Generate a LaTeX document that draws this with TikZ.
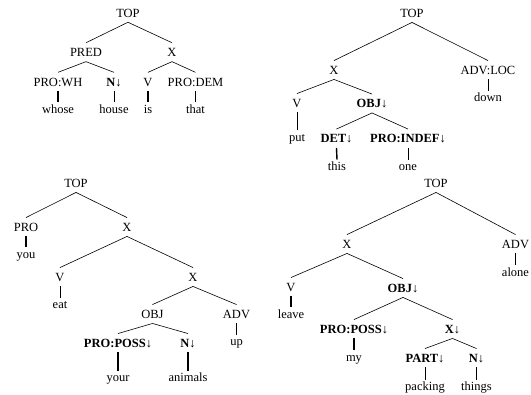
\documentclass[tikz,border=0pt]{standalone}
\usepackage{fontspec}
\setmainfont{Liberation Serif}
\newcommand{\darr}{{\mdseries ↓}}
\begin{document}
\begin{tikzpicture}[x=1pt,y=-1pt,
  lbl/.style={font=\fontsize{12.5}{14}\selectfont, inner xsep=1pt, inner ysep=5pt, text height=8.5pt, text depth=0pt},
  leaf/.style={lbl, inner ysep=2.5pt},
  edge/.style={line width=0.6pt},
  thinbar/.style={line width=0.7pt},
  thickbar/.style={line width=1.4pt}]
\useasboundingbox (0,0) rectangle (531,395);
\clip (0,0) rectangle (531,395);
% ---------- tree 1 (top left)
\node[lbl] (t1) at (128,12.8) {TOP};
\node[lbl] (pred) at (86,52.2) {PRED};
\node[lbl] (x1) at (172,52.2) {X};
\node[lbl] (prowh) at (58,81.8) {PRO:WH};
\node[lbl] (n1) at (114,81.8) {\textbf{N}\darr};
\node[lbl] (v1) at (148,81.8) {V};
\node[lbl] (prodem) at (195.5,81.8) {PRO:DEM};
\node[leaf] (whose) at (58,108.8) {whose};
\node[leaf] (house) at (114,108.8) {house};
\node[leaf] (is) at (148,108.8) {is};
\node[leaf] (that) at (195.5,108.8) {that};
\draw[edge] (t1.south) -- (pred.north);
\draw[edge] (t1.south) -- (x1.north);
\draw[edge] (pred.south) -- (prowh.north);
\draw[edge] (pred.south) -- (n1.north);
\draw[edge] (x1.south) -- (v1.north);
\draw[edge] (x1.south) -- (prodem.north);
\draw[thickbar] (prowh.south) -- (whose.north);
\draw[thinbar] (n1.south) -- (house.north);
\draw[thickbar] (v1.south) -- (is.north);
\draw[thinbar] (prodem.south) -- (that.north);
% ---------- tree 2 (top right)
\node[lbl] (t2) at (412,13) {TOP};
\node[lbl] (x2) at (334,70) {X};
\node[lbl] (advloc) at (488,70) {ADV:LOC};
\node[leaf] (down) at (488,97.5) {down};
\node[lbl] (v2) at (297,103) {V};
\node[lbl] (obj2) at (372,103.5) {\textbf{OBJ}\darr};
\node[leaf] (put) at (297,137) {put};
\node[lbl] (det) at (336.5,138.5) {\textbf{DET}\darr};
\node[lbl] (proindef) at (408,138.5) {\textbf{PRO:INDEF}\darr};
\node[leaf] (this) at (337,166.5) {this};
\node[leaf] (one) at (408,166.5) {one};
\draw[edge] (t2.south) -- (x2.north);
\draw[edge] (t2.south) -- (advloc.north);
\draw[edge] (x2.south) -- (v2.north);
\draw[edge] (x2.south) -- (obj2.north);
\draw[edge] (obj2.south) -- (det.north);
\draw[edge] (obj2.south) -- (proindef.north);
\draw[thinbar] (advloc.south) -- (down.north);
\draw[thinbar] (v2.south) -- (put.north);
\draw[thickbar] (det.south) -- (this.north);
\draw[thinbar] (proindef.south) -- (one.north);
% ---------- tree 3 (bottom left)
\node[lbl] (t3) at (76,183) {TOP};
\node[lbl] (pro3) at (26,227) {PRO};
\node[lbl] (x3) at (127,227) {X};
\node[leaf] (you) at (26,254) {you};
\node[lbl] (v3) at (60,277) {V};
\node[lbl] (x3b) at (193,277) {X};
\node[leaf] (eat) at (60,304.5) {eat};
\node[lbl] (obj3) at (152.5,314) {OBJ};
\node[lbl] (adv3) at (236.5,314) {ADV};
\node[leaf] (up) at (236.5,341.5) {up};
\node[lbl] (poss3) at (118,343) {\textbf{PRO:POSS}\darr};
\node[lbl] (n3) at (188,343) {\textbf{N}\darr};
\node[leaf] (your) at (118,377.5) {your};
\node[leaf] (animals) at (188,377.5) {animals};
\draw[edge] (t3.south) -- (pro3.north);
\draw[edge] (t3.south) -- (x3.north);
\draw[edge] (x3.south) -- (v3.north);
\draw[edge] (x3.south) -- (x3b.north);
\draw[edge] (x3b.south) -- (obj3.north);
\draw[edge] (x3b.south) -- (adv3.north);
\draw[edge] (obj3.south) -- (poss3.north);
\draw[edge] (obj3.south) -- (n3.north);
\draw[thickbar] (pro3.south) -- (you.north);
\draw[thinbar] (v3.south) -- (eat.north);
\draw[thickbar] (adv3.south) -- (up.north);
\draw[thickbar] (poss3.south) -- (your.north);
\draw[thickbar] (n3.south) -- (animals.north);
% ---------- tree 4 (bottom right)
\node[lbl] (t4) at (436,183) {TOP};
\node[lbl] (x4) at (347,244) {X};
\node[lbl] (adv4) at (515.5,244) {ADV};
\node[leaf] (alone) at (515.5,272) {alone};
\node[lbl] (v4) at (291,287) {V};
\node[lbl] (obj4) at (403,288) {\textbf{OBJ}\darr};
\node[leaf] (leave) at (291,314) {leave};
\node[lbl] (poss4) at (354,329) {\textbf{PRO:POSS}\darr};
\node[lbl] (x4b) at (452.5,329) {\textbf{X}\darr};
\node[leaf] (my) at (354,357) {my};
\node[lbl] (part) at (425,358) {\textbf{PART}\darr};
\node[lbl] (n4) at (476.5,358) {\textbf{N}\darr};
\node[leaf] (packing) at (425,386.5) {packing};
\node[leaf] (things) at (476.5,386.5) {things};
\draw[edge] (t4.south) -- (x4.north);
\draw[edge] (t4.south) -- (adv4.north);
\draw[edge] (x4.south) -- (v4.north);
\draw[edge] (x4.south) -- (obj4.north);
\draw[edge] (obj4.south) -- (poss4.north);
\draw[edge] (obj4.south) -- (x4b.north);
\draw[edge] (x4b.south) -- (part.north);
\draw[edge] (x4b.south) -- (n4.north);
\draw[thickbar] (adv4.south) -- (alone.north);
\draw[thickbar] (v4.south) -- (leave.north);
\draw[thickbar] (poss4.south) -- (my.north);
\draw[thinbar] (part.south) -- (packing.north);
\draw[thickbar] (n4.south) -- (things.north);
\end{tikzpicture}
\end{document}
